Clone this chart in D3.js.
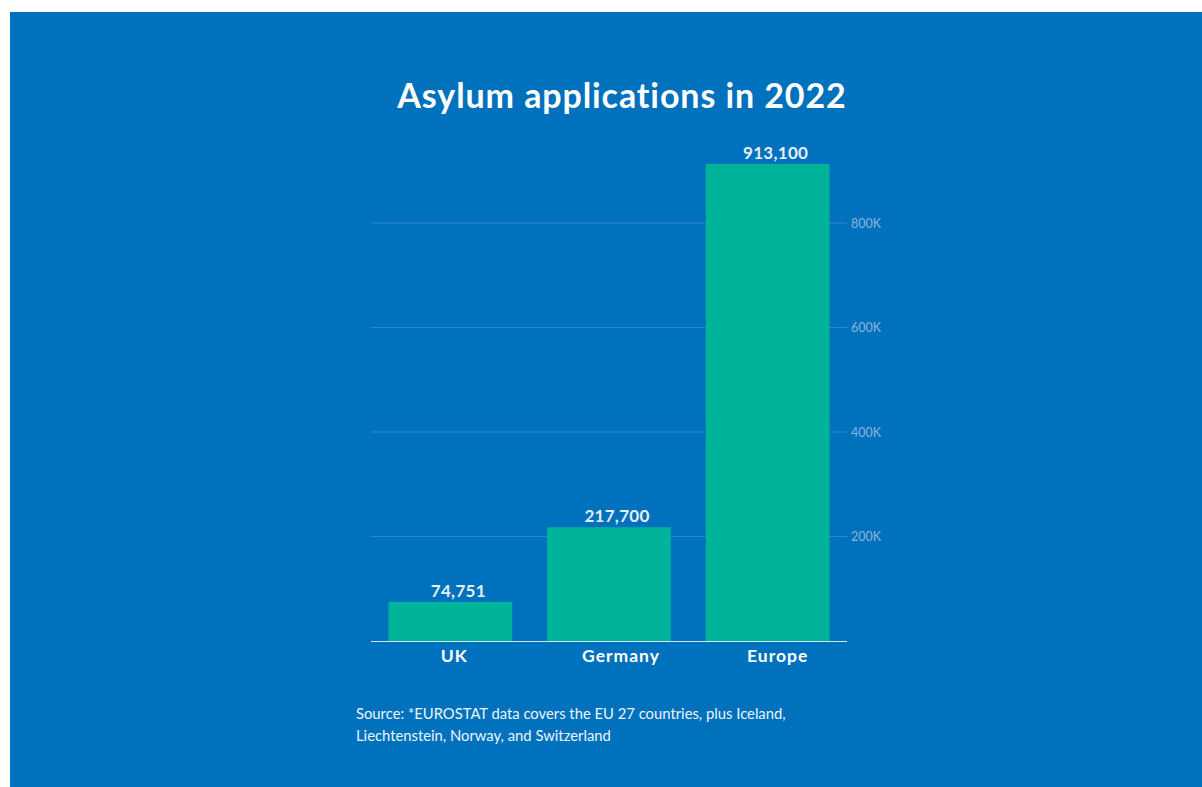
<!DOCTYPE html>
<html>
<head>
<meta charset="utf-8">
<script src="https://cdn.jsdelivr.net/npm/d3@7"></script>
<style>
  html, body { margin: 0; padding: 0; background: #fff; }
  svg { display: block; }
  text { font-family: Lato, "Open Sans", sans-serif; }
</style>
</head>
<body>
<svg id="chart" width="1202" height="787"></svg>
<script>
(function() {
    'use strict';

    var categories = ['UK', 'Germany', 'Europe'];
    var values = [74751, 217700, 913100];
    var valueLabels = ['74,751', '217,700', '913,100'];
    var yTicks = [200000, 400000, 600000, 800000];
    var title = 'Asylum applications in 2022';
    var sourceLines = [
        'Source: *EUROSTAT data covers the EU 27 countries, plus Iceland,',
        'Liechtenstein, Norway, and Switzerland'
    ];

    // labels in the original sit a little right of the bar centres
    var valueShift = 8;
    var catShift = [4, 12, 10];

    var svg = d3.select('#chart');

    svg.append('rect')
        .attr('x', 10).attr('y', 12)
        .attr('width', 1192).attr('height', 775)
        .attr('fill', '#0071bc');

    svg.append('text')
        .attr('x', 622).attr('y', 108)
        .attr('text-anchor', 'middle')
        .attr('fill', '#ffffff')
        .attr('font-size', 34)
        .attr('font-weight', 700)
        .attr('letter-spacing', 0.9)
        .text(title);

    var left = 371, right = 847, bottom = 641;

    var x = d3.scaleBand()
        .domain(categories)
        .range([left, right])
        .paddingInner(0.22)
        .paddingOuter(0.11);

    var y = d3.scaleLinear()
        .domain([0, 200000])
        .range([bottom, bottom - 104.5]);

    // gridlines
    svg.append('g')
        .selectAll('line')
        .data(yTicks)
        .enter()
        .append('line')
        .attr('x1', left).attr('x2', right)
        .attr('y1', function(d){return y(d);})
        .attr('y2', function(d){return y(d);})
        .attr('stroke', '#3a8fcc')
        .attr('stroke-opacity', 0.8)
        .attr('stroke-width', 1);

    // right axis labels
    var axis = svg.append('g')
        .attr('transform', 'translate(' + (right - 2) + ',0)')
        .call(d3.axisRight(y)
              .tickValues(yTicks)
              .tickSize(0)
              .tickPadding(6)
              .tickFormat(function(d){return (d / 1000) + 'K';}));
    axis.select('.domain').remove();
    axis.selectAll('text')
        .attr('fill', '#8cb4de')
        .attr('font-size', 12.5)
        .attr('font-family', 'Lato, "Open Sans", sans-serif');

    // bars
    svg.append('g')
        .selectAll('rect')
        .data(values)
        .enter()
        .append('rect')
        .attr('x', function(d, i){return x(categories[i]);})
        .attr('y', function(d){return y(d);})
        .attr('width', x.bandwidth())
        .attr('height', function(d){return bottom - y(d);})
        .attr('fill', '#00b39b');

    // value labels
    svg.append('g')
        .selectAll('text')
        .data(values)
        .enter()
        .append('text')
        .attr('x', function(d, i){return x(categories[i]) + x.bandwidth() / 2 + valueShift;})
        .attr('y', function(d){return y(d) - 5;})
        .attr('text-anchor', 'middle')
        .attr('fill', '#e6eef8')
        .attr('font-size', 17)
        .attr('font-weight', 700)
        .attr('letter-spacing', 0.3)
        .text(function(d, i){return valueLabels[i];});

    // baseline
    svg.append('line')
        .attr('x1', left).attr('x2', right)
        .attr('y1', bottom + 0.5).attr('y2', bottom + 0.5)
        .attr('stroke', '#d4e4f4')
        .attr('stroke-width', 1);

    // category labels
    svg.append('g')
        .selectAll('text')
        .data(categories)
        .enter()
        .append('text')
        .attr('x', function(d, i){return x(d) + x.bandwidth() / 2 + catShift[i];})
        .attr('y', 662)
        .attr('text-anchor', 'middle')
        .attr('fill', '#ffffff')
        .attr('font-size', 17.5)
        .attr('font-weight', 700)
        .attr('letter-spacing', 1)
        .text(function(d){return d;});

    // source
    svg.append('g')
        .selectAll('text')
        .data(sourceLines)
        .enter()
        .append('text')
        .attr('x', 356)
        .attr('y', function(d, i){return 719 + i * 22;})
        .attr('fill', '#eef4fb')
        .attr('font-size', 14.8)
        .text(function(d){return d;});

})();
</script>
</body>
</html>
